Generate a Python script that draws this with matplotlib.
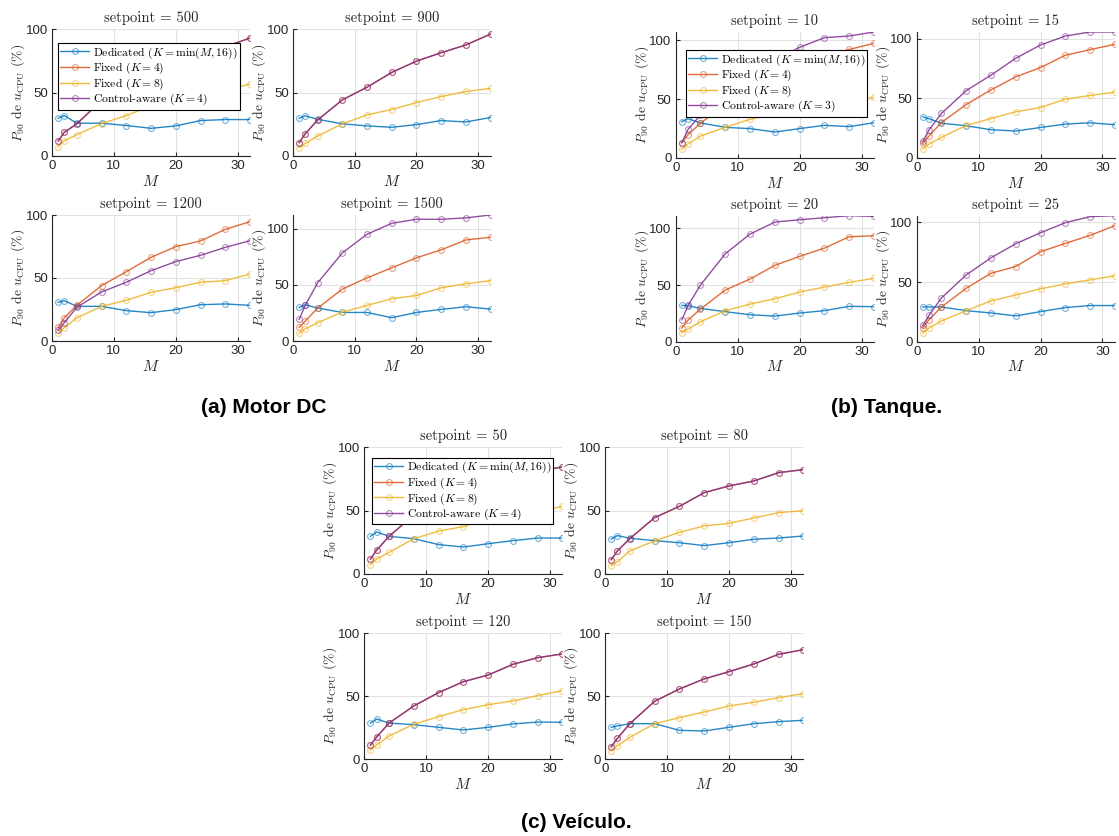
import matplotlib
matplotlib.use("Agg")
import matplotlib.pyplot as plt

plt.rcParams["mathtext.fontset"] = "cm"

W, H = 1119, 836
M = [1, 2, 4, 8, 12, 16, 20, 24, 28, 32]

C_BLUE = (0 / 255, 114 / 255, 189 / 255)
C_ORANGE = (217 / 255, 83 / 255, 25 / 255)
C_YELLOW = (237 / 255, 177 / 255, 32 / 255)
C_PURPLE = (126 / 255, 47 / 255, 142 / 255)

# ---------------- Motor DC ----------------
motor_setpoints = [500, 900, 1200, 1500]
motor_dedicated = [
    [29.7, 31.8, 25.8, 25.8, 24.0, 21.8, 23.7, 27.9, 28.7, 28.7],
    [29.7, 31.6, 28.9, 25.3, 23.7, 22.6, 24.7, 27.9, 26.8, 30.3],
    [30.7, 32.0, 27.5, 27.5, 24.1, 22.5, 24.9, 28.8, 29.4, 28.3],
    [29.9, 32.2, 29.3, 25.4, 25.4, 20.7, 25.4, 28.1, 30.5, 28.4],
]
motor_fixed8 = [
    [7.4, 12.1, 16.8, 25.5, 31.8, 39.5, 43.7, 48.0, 52.0, 56.6],
    [6.6, 10.0, 15.8, 25.3, 32.4, 36.6, 42.1, 46.8, 50.8, 53.2],
    [6.1, 10.6, 18.3, 27.5, 32.3, 38.6, 42.3, 46.6, 47.9, 53.2],
    [6.8, 10.9, 16.3, 25.7, 31.7, 37.6, 40.5, 47.3, 50.9, 53.6],
]
motor_aware = [
    [11.8, 18.7, 25.3, 43.7, 54.0, 63.0, 71.0, 78.0, 86.0, 92.9],
    [10.5, 17.6, 28.4, 44.2, 54.2, 65.8, 74.7, 81.3, 87.4, 96.0],
    [8.7, 14.6, 26.7, 38.9, 46.6, 55.8, 63.0, 68.0, 74.3, 79.6],
    [19.2, 32.0, 51.8, 78.4, 95.0, 104.7, 108.3, 108.3, 109.5, 112.1],
]
# Control-aware picks K = 4 at the two lower setpoints, so Fixed (K = 4) coincides there
motor_fixed4 = [
    motor_aware[0],
    motor_aware[1],
    [10.8, 18.5, 28.3, 43.9, 55.0, 66.4, 74.9, 79.4, 88.6, 94.7],
    [12.1, 17.8, 29.3, 46.2, 56.2, 65.1, 74.0, 81.1, 89.9, 92.3],
]

# ---------------- Tanque ----------------
tank_setpoints = [10, 15, 20, 25]
tank_dedicated = [
    [30.8, 33.3, 29.7, 26.0, 24.9, 22.0, 24.9, 27.7, 26.6, 29.9],
    [34.5, 32.9, 29.2, 27.0, 23.7, 22.6, 25.6, 28.4, 29.5, 27.9],
    [32.0, 31.8, 29.4, 26.5, 23.8, 22.6, 25.3, 27.4, 31.2, 30.9],
    [29.1, 29.1, 29.1, 26.0, 24.1, 21.6, 25.2, 28.6, 30.3, 30.3],
]
tank_fixed4 = [
    [13.0, 19.8, 29.4, 46.0, 57.0, 68.0, 77.0, 86.0, 92.0, 97.2],
    [12.3, 18.4, 29.8, 44.8, 57.1, 68.0, 75.8, 86.1, 90.8, 95.3],
    [12.1, 19.1, 28.8, 45.6, 55.3, 67.4, 75.3, 82.6, 92.6, 93.5],
    [11.8, 18.5, 29.1, 44.8, 57.4, 63.0, 75.4, 82.4, 89.1, 97.2],
]
tank_fixed8 = [
    [7.6, 11.9, 18.6, 26.0, 32.8, 37.6, 42.1, 46.0, 49.0, 51.4],
    [7.8, 11.7, 17.3, 27.3, 33.1, 38.7, 42.3, 49.3, 52.4, 55.2],
    [7.9, 11.2, 17.6, 27.4, 33.2, 37.9, 43.8, 48.2, 52.4, 55.9],
    [7.3, 11.5, 17.4, 26.0, 34.2, 39.2, 44.3, 48.5, 51.8, 55.2],
]
tank_aware = [
    [13.0, 24.3, 36.4, 57.0, 71.0, 83.0, 93.8, 102.0, 103.4, 106.8],
    [13.9, 23.7, 37.3, 56.5, 69.4, 83.6, 94.7, 102.2, 105.6, 105.6],
    [19.4, 32.0, 50.0, 77.6, 95.0, 105.6, 107.6, 109.4, 111.2, 110.6],
    [13.7, 22.1, 36.7, 56.0, 70.3, 82.1, 91.3, 99.7, 104.8, 105.6],
]

# ---------------- Veículo ----------------
car_setpoints = [50, 80, 120, 150]
car_dedicated = [
    [29.7, 33.2, 29.7, 27.9, 23.2, 21.3, 23.9, 26.3, 28.4, 28.4],
    [27.6, 30.3, 28.2, 26.3, 24.7, 22.4, 24.7, 27.4, 28.4, 30.0],
    [28.6, 31.8, 28.6, 27.3, 25.2, 23.1, 25.2, 27.9, 29.4, 29.2],
    [25.2, 26.3, 28.1, 28.1, 22.8, 22.3, 25.2, 28.1, 29.7, 30.8],
]
car_fixed8 = [
    [7.4, 11.8, 17.1, 27.9, 33.9, 37.4, 43.4, 45.3, 49.0, 53.4],
    [6.6, 9.7, 18.2, 26.1, 32.9, 37.9, 40.0, 44.2, 48.4, 50.0],
    [7.2, 11.1, 18.3, 27.6, 33.7, 39.3, 43.2, 46.2, 50.4, 54.4],
    [6.6, 10.6, 17.2, 28.1, 32.9, 37.4, 42.2, 45.1, 48.8, 52.0],
]
car_aware = [
    [11.8, 18.9, 29.7, 46.6, 55.0, 63.0, 70.0, 75.0, 81.0, 84.5],
    [11.3, 18.2, 27.9, 44.5, 53.4, 64.2, 69.5, 73.4, 80.0, 82.4],
    [11.1, 17.5, 28.6, 42.2, 52.8, 61.5, 66.8, 75.3, 80.6, 83.6],
    [9.8, 16.4, 28.1, 45.9, 55.7, 63.7, 69.5, 75.6, 83.3, 87.0],
]
# Control-aware uses K = 4 for every setpoint, identical to Fixed (K = 4)
car_fixed4 = car_aware

LEGEND_LABELS = [
    r"Dedicated ($K = \min(M, 16)$)",
    r"Fixed ($K = 4$)",
    r"Fixed ($K = 8$)",
]

SERIF = "cmr10"
SANS = "Liberation Sans"
TXT = "#262626"


def rect(x0, y0, x1, y1):
    return [x0 / W, 1 - y1 / H, (x1 - x0) / W, (y1 - y0) / H]


def draw_panel(fig, box, setpoint, ded, f4, f8, aw):
    ax = fig.add_axes(rect(*box))
    series = [(ded, C_BLUE), (f4, C_ORANGE), (f8, C_YELLOW), (aw, C_PURPLE)]
    handles = []
    for vals, c in series:
        (h,) = ax.plot(M, vals, color=(*c, 0.85), lw=1.0, marker="o", ms=4.2,
                       mfc="none", mec=(*c, 0.55), mew=0.8, zorder=3)
        handles.append(h)
    top = max(100, max(max(s) for s, _ in series))
    ax.set_xlim(0, 32)
    ax.set_ylim(0, top)
    ax.set_xticks([0, 10, 20, 30])
    ax.set_yticks([0, 50, 100])
    ax.grid(True, color="#e2e2e2", lw=0.8, zorder=0)
    ax.set_axisbelow(True)
    for s in ("top", "right"):
        ax.spines[s].set_visible(False)
    for s in ("left", "bottom"):
        ax.spines[s].set_color(TXT)
        ax.spines[s].set_linewidth(0.8)
    ax.tick_params(direction="in", length=3, width=0.8, color=TXT,
                   labelcolor=TXT, labelsize=9.5, pad=3)
    for lab in ax.get_xticklabels() + ax.get_yticklabels():
        lab.set_fontfamily(SANS)
    ax.set_title(f"setpoint = {setpoint}", family=SERIF, fontsize=10.5,
                 color=TXT, pad=5)
    ax.set_xlabel(r"$M$", fontsize=11, color=TXT, labelpad=1)
    ax.set_ylabel(r"$P_{90}$ de $u_{\mathrm{CPU}}$ (%)", family=SERIF,
                  fontsize=9.8, color=TXT, labelpad=-1)
    return ax, handles


def draw_group(fig, boxes, setpoints, ded, f4, f8, aw, k_aware, leg_anchor):
    for i, box in enumerate(boxes):
        ax, handles = draw_panel(fig, box, setpoints[i], ded[i], f4[i], f8[i], aw[i])
        if i == 0:
            labels = LEGEND_LABELS + [rf"Control-aware ($K = {k_aware}$)"]
            leg = ax.legend(handles, labels, loc="upper left",
                            bbox_to_anchor=leg_anchor, borderaxespad=0,
                            prop={"family": SERIF, "size": 8.4},
                            fancybox=False, framealpha=1, edgecolor="black",
                            handlelength=2.5, handletextpad=0.3,
                            labelspacing=0.02, borderpad=0.2)
            leg.get_frame().set_linewidth(0.8)
            leg.set_zorder(10)


fig = plt.figure(figsize=(W / 100, H / 100), dpi=100)

motor_boxes = [(52, 29, 250, 156), (293, 29, 490.5, 156),
               (52, 215, 250, 341), (293, 215, 490.5, 341)]
tank_boxes = [(675.7, 32, 874, 158), (916.7, 32, 1114.8, 158),
              (675.7, 215.7, 874, 341.7), (916.7, 215.7, 1114.8, 341.7)]
car_boxes = [(364.3, 447.3, 562.4, 574), (605, 447.3, 803.4, 574),
             (364.3, 633.3, 562.4, 759), (605, 633.3, 803.4, 759)]

draw_group(fig, motor_boxes, motor_setpoints, motor_dedicated, motor_fixed4,
           motor_fixed8, motor_aware, 4, (0.03, 0.89))
draw_group(fig, tank_boxes, tank_setpoints, tank_dedicated, tank_fixed4,
           tank_fixed8, tank_aware, 3, (0.05, 0.857))
draw_group(fig, car_boxes, car_setpoints, car_dedicated, car_fixed4,
           car_fixed8, car_aware, 4, (0.037, 0.918))

cap = dict(family=SANS, fontweight="bold", fontsize=15, color="black",
           ha="center", va="center")
fig.text(264 / W, 1 - 407 / H, "(a) Motor DC", **cap)
fig.text(887 / W, 1 - 407 / H, "(b) Tanque.", **cap)
fig.text(576 / W, 1 - 822 / H, "(c) Veículo.", **cap)

fig.savefig("out.png", dpi=100)
